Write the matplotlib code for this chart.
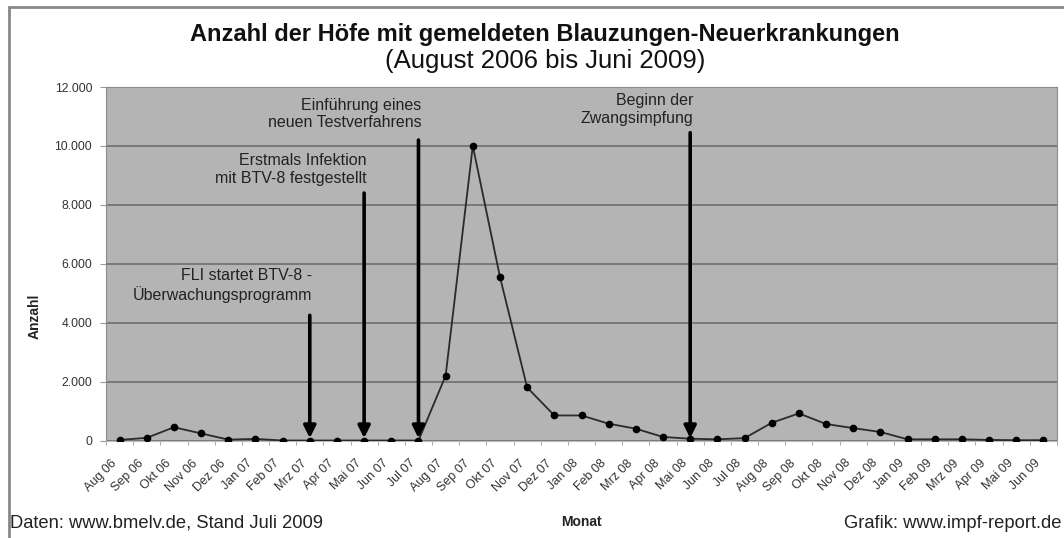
import numpy as np
import matplotlib.pyplot as plt
import matplotlib.transforms as mtransforms
from matplotlib.patches import Rectangle

plt.rcParams['font.family'] = ['Liberation Sans', 'DejaVu Sans']

# Monate August 2006 bis Juni 2009
monate = ['Aug 06', 'Sep 06', 'Okt 06', 'Nov 06', 'Dez 06',
          'Jan 07', 'Feb 07', 'Mrz 07', 'Apr 07', 'Mai 07', 'Jun 07', 'Jul 07',
          'Aug 07', 'Sep 07', 'Okt 07', 'Nov 07', 'Dez 07',
          'Jan 08', 'Feb 08', 'Mrz 08', 'Apr 08', 'Mai 08', 'Jun 08', 'Jul 08',
          'Aug 08', 'Sep 08', 'Okt 08', 'Nov 08', 'Dez 08',
          'Jan 09', 'Feb 09', 'Mrz 09', 'Apr 09', 'Mai 09', 'Jun 09']

anzahl = [20, 90, 450, 240, 30,
          55, 0, 0, 0, 0, 0, 0,
          2200, 10000, 5550, 1800, 850,
          850, 570, 400, 120, 60, 40, 80,
          600, 920, 560, 420, 290,
          40, 40, 40, 20, 10, 10]

# Ereignisse: Monat, Text, Pfeilanfang (oben)
ereignis_monat = ['Mrz 07', 'Mai 07', 'Jul 07', 'Mai 08']
ereignis_text = ['FLI startet BTV-8 -\nÜberwachungsprogramm',
                 'Erstmals Infektion\nmit BTV-8 festgestellt',
                 'Einführung eines\nneuen Testverfahrens',
                 'Beginn der\nZwangsimpfung']
ereignis_oben = [4250, 8400, 10200, 10450]
ereignis_texty = [5250, 9200, 11080, 11230]

fig = plt.figure(figsize=(10.64, 5.38), dpi=100)
ax = fig.add_axes([106/1064, 1 - 440.5/538, (1057 - 106)/1064, (440.5 - 87)/538])

x = np.arange(len(monate))

ax.set_facecolor('#b4b4b4')
ax.set_xlim(-0.5, len(monate) - 0.5)
ax.set_ylim(0, 12000)
ax.set_yticks(np.arange(0, 12001, 2000))
ax.set_yticklabels(['0', '2.000', '4.000', '6.000', '8.000', '10.000', '12.000'],
                   fontsize=8.7, color='#333333')
ax.yaxis.grid(True, color='#737373', lw=1.3)
ax.set_axisbelow(True)

ax.set_xticks(x)
ax.set_xticklabels(monate, rotation=45, ha='right', rotation_mode='anchor',
                   fontsize=9, color='#333333')
ax.tick_params(axis='x', which='major', length=0, pad=12)
versatz = mtransforms.ScaledTranslation(-9/100, 0, fig.dpi_scale_trans)
for lab in ax.get_xticklabels():
    lab.set_transform(lab.get_transform() + versatz)
ax.set_xticks(np.arange(-0.5, len(monate), 1), minor=True)
ax.tick_params(axis='x', which='minor', length=3, color='#999999')
ax.tick_params(axis='y', length=4, color='#999999', pad=6)

for s in ['top', 'right', 'left']:
    ax.spines[s].set_color('#8a8a8a')
ax.spines['bottom'].set_color('#bbbbbb')

ax.plot(x, anzahl, color='#2a2a2a', lw=1.3, marker='o', markersize=4.5,
        markerfacecolor='black', markeredgecolor='black', zorder=3)

for m, t, oben, ty in zip(ereignis_monat, ereignis_text, ereignis_oben, ereignis_texty):
    i = monate.index(m)
    ax.annotate('', xy=(i, 80), xytext=(i, oben),
                arrowprops=dict(arrowstyle='-|>', lw=2.6, color='black',
                                mutation_scale=18, shrinkA=0, shrinkB=0), zorder=4)
    ax.text(i + 0.1, ty, t, ha='right', va='center', fontsize=11.5,
            color='#222222', linespacing=1.2)

ax.set_ylabel('Anzahl', fontsize=10, fontweight='bold', color='#222222')
ax.yaxis.set_label_coords(-0.068, 0.35)
ax.set_xlabel('Monat', fontsize=10, fontweight='bold', color='#222222')
ax.xaxis.set_label_coords(0.5, -0.21)

fig.text(545/1064, 1 - 34/538, 'Anzahl der Höfe mit gemeldeten Blauzungen-Neuerkrankungen',
         ha='center', va='center', fontsize=17, fontweight='bold', color='#111111')
fig.text(545/1064, 1 - 61/538, '(August 2006 bis Juni 2009)',
         ha='center', va='center', fontsize=18.5, color='#111111')

fig.text(10/1064, 1 - 523/538, 'Daten: www.bmelv.de, Stand Juli 2009',
         ha='left', va='center', fontsize=13.2, color='#222222')
fig.text(1062/1064, 1 - 523/538, 'Grafik: www.impf-report.de',
         ha='right', va='center', fontsize=13.2, color='#222222')

fig.patches.append(Rectangle((9/1064, -0.05), 1.1, 1 - 7/538 + 0.05,
                             transform=fig.transFigure, fill=False,
                             edgecolor='#888888', lw=2))

plt.savefig('out.png', dpi=100)
